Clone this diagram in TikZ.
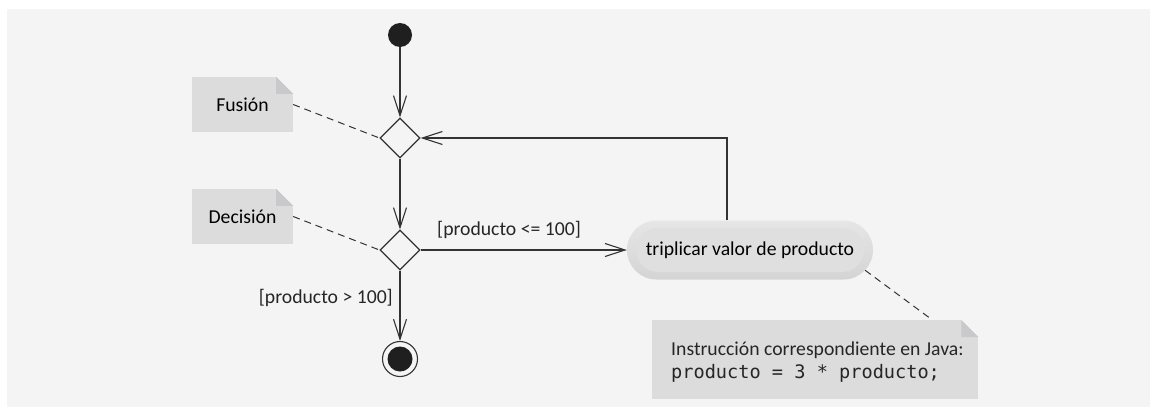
\documentclass[tikz,border=0pt]{standalone}
\usepackage{fontspec}
\setmainfont{Carlito}
\setmonofont{DejaVu Sans Mono}
\usetikzlibrary{arrows.meta,shapes.geometric,shapes.misc,calc}
\definecolor{bgc}{HTML}{F4F4F4}
\definecolor{notec}{HTML}{DCDCDD}
\definecolor{foldc}{HTML}{C9C9CB}
\definecolor{linec}{HTML}{333333}
\definecolor{pillout}{HTML}{E6E6E6}
\definecolor{pilloutb}{HTML}{D4D4D4}
\definecolor{pillin}{HTML}{DFDFDF}
\tikzset{
  flow/.style={draw=linec,line width=1.2pt,-{Straight Barb[length=20pt,width=13pt,line width=1.1pt]}},
  plain/.style={draw=linec,line width=1.2pt},
  notelink/.style={draw=linec,line width=1pt,dash pattern=on 7pt off 5pt},
  notebox/.style={rectangle,fill=notec,inner sep=0pt,font=\fontsize{19.7}{22}\selectfont},
  decisionbox/.style={diamond,draw=linec,line width=1.2pt,minimum width=40pt,minimum height=40pt,inner sep=0pt,aspect=1},
  lbl/.style={font=\fontsize{19.7}{22}\selectfont,text=black!85,inner sep=0pt},
}
\newcommand{\dogear}[1]{%
  \fill[bgc] (#1.north east) -- ++(-17,0) -- ++(17,17) -- cycle;
  \fill[foldc] ($(#1.north east)+(-17,0)$) -- ++(0,17) -- ++(17,0) -- cycle;}
\begin{document}
\begin{tikzpicture}[x=1pt,y=-1pt]
\useasboundingbox (0,0) rectangle (1150,407);
\fill[bgc] (7,9) rectangle (1150,407);
% nodes
\node[circle,fill=black!88,minimum size=24pt,inner sep=0pt] (start) at (400,35) {};
\node[decisionbox] (fusion) at (400,138) {};
\node[decisionbox] (decision) at (400,250) {};
\node[circle,draw=linec,line width=1.1pt,minimum size=35pt,inner sep=0pt] (final) at (400,359) {};
\fill[black!88] (final.center) circle (12.5);
% notes
\node[notebox,minimum width=101pt,minimum height=55pt] (fnote) at (242.5,104.5) {Fusión};
\dogear{fnote}
\node[notebox,minimum width=101pt,minimum height=55pt] (dnote) at (242.5,216.5) {Decisión};
\dogear{dnote}
\node[notebox,minimum width=326pt,minimum height=79pt,anchor=north west,align=left] (jnote) at (652,320) {};
\dogear{jnote}
\node[lbl,anchor=west,align=left] (jtext) at (671,362) {Instrucción correspondiente en Java:\\[1pt]{\fontsize{18.6}{22}\ttfamily producto = 3 * producto;}};
% activity
\node[rounded rectangle,top color=pillout,bottom color=pilloutb,minimum width=246pt,minimum height=59pt,inner sep=0pt] (activity) at (750,250) {};
\node[rounded rectangle,fill=pillin,minimum width=228pt,minimum height=44pt,inner sep=0pt,font=\fontsize{19.7}{22}\selectfont] (acttext) at (activity.center) {triplicar valor de producto};
\coordinate (loopx) at (727,0);
% connectors
\draw[flow] (start) -- (fusion.north);
\draw[flow] (fusion.south) -- (decision.north);
\draw[flow] (decision.south) -- (final.north);
\draw[flow] (decision.east) -- (activity.west);
\draw[flow] (activity.north -| loopx) |- (fusion.east);
\draw[notelink] (fnote.east) -- (fusion.west);
\draw[notelink] (dnote.east) -- (decision.west);
\draw[notelink] (activity.-10) -- ($(jnote.north east)+(-46,0)$);
% labels
\node[lbl,anchor=west] (lyes) at (437,230) {[producto <= 100]};
\node[lbl,anchor=east] (lno) at (393,298) {[producto > 100]};
\end{tikzpicture}
\end{document}
